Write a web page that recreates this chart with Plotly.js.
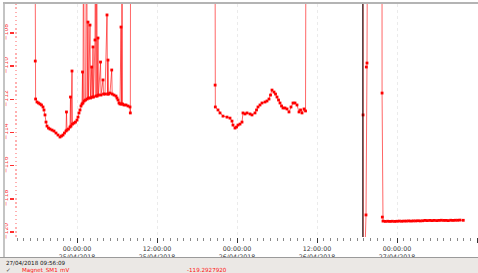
<!DOCTYPE html>
<html><head><meta charset="utf-8">
<script src="https://cdn.plot.ly/plotly-3.0.1.min.js"></script>
<style>
body{margin:0;background:#fff;}
#wrap{position:relative;width:478px;height:273px;overflow:hidden;background:#fff;font-family:"DejaVu Sans",sans-serif;}
#chart{position:absolute;left:0;top:0;width:478px;height:273px;}
#lborder{position:absolute;left:3px;top:2px;width:2px;height:255px;background:#c4c4c4;}
#tborder{position:absolute;left:3px;top:2px;width:475px;height:2px;background:#b4b4b4;}
#band{position:absolute;left:0;top:257px;width:478px;height:16px;background:#ebe8e5;border-top:1px solid #9a9a9a;box-sizing:border-box;}
.t{position:absolute;font-size:5.6px;line-height:6px;white-space:nowrap;}
</style></head>
<body>
<div id="wrap">
  <div id="chart"></div>
  <div id="lborder"></div>
  <div id="tborder"></div>
  <div id="band">
    <div class="t" style="left:6px;top:2px;color:#111;">27/04/2018 09:56:09</div>
    <div class="t" style="left:6px;top:9px;color:#111;">✓</div>
    <div class="t" style="left:22px;top:9px;color:#ff1010;">Magnet_SM1</div>
    <div class="t" style="left:60px;top:9px;color:#ff1010;">mV</div>
    <div class="t" style="left:187px;top:9px;color:#ff1010;">-119.2927920</div>
  </div>
</div>
<script>
// Time base: hours after 25/04/2018 00:00:00
const baseDate = Date.UTC(2018, 3, 25, 0, 0, 0);

// Segment 1 (morning of 25/04, spiky)
const hours1 = [-6.30,-6.26,-6.21,-6.00,-5.78,-5.55,-5.33,-5.10,-4.95,-4.80,
 -4.65,-4.50,-4.28,-4.05,-3.75,-3.45,-3.15,-2.85,-2.55,-2.33,
 -2.10,-1.88,-1.65,-1.58,-1.50,-1.28,-1.05,-0.98,-0.90,-0.75,
 -0.68,-0.45,-0.23,0.00,0.15,0.30,0.45,0.60,0.75,0.83,
 0.90,0.98,1.08,1.28,1.46,1.53,1.65,1.73,1.95,2.03,
 2.21,2.28,2.40,2.48,2.70,2.78,2.85,2.96,3.03,3.15,
 3.23,3.53,3.60,3.90,3.98,4.20,4.50,4.58,4.65,4.73,
 4.95,5.21,5.28,5.55,5.85,6.00,6.15,6.30,6.45,6.60,
 6.68,6.75,6.83,7.05,7.35,7.65,7.95,8.00,8.04];
const values1 = [-100,-109.69,-111.98,-112.16,-112.22,-112.28,-112.34,-112.46,-112.64,-112.94,
 -113.37,-113.61,-113.73,-113.79,-113.85,-113.91,-114.03,-114.15,-114.27,-114.21,
 -114.15,-114.03,-113.91,-112.76,-113.85,-113.79,-113.67,-111.86,-113.61,-110.29,
 -113.49,-113.43,-113.37,-113.25,-113.07,-112.82,-112.64,-112.40,-112.28,-110.35,
 -112.22,-100,-112.10,-112.04,-100,-111.98,-107.34,-111.92,-107.52,-111.92,
 -110.05,-111.86,-108.84,-111.86,-108.42,-100,-111.80,-100,-111.80,-108.30,
 -111.74,-109.75,-111.74,-110.83,-111.68,-111.68,-106.91,-111.68,-109.63,-111.68,
 -111.62,-110.23,-111.68,-111.74,-111.80,-111.92,-112.04,-112.22,-112.28,-107.64,
 -112.28,-100,-112.28,-112.34,-112.34,-112.40,-112.46,-112.82,-100];

// Segment 2 (night 25/04 -> 26/04)
const hours2 = [20.70,20.72,20.75,21.15,21.45,21.90,22.50,22.95,23.25,23.40,
 23.70,23.93,24.15,24.45,24.75,24.90,25.20,25.50,25.95,26.25,
 26.70,26.93,27.15,27.45,27.75,28.20,28.50,28.80,29.03,29.25,
 29.55,29.78,30.00,30.23,30.45,30.68,30.90,31.20,31.50,31.80,
 32.10,32.40,32.70,33.00,33.30,33.53,33.75,34.05,34.28,34.35];
const values2 = [-100,-111.14,-112.46,-112.64,-112.82,-113.01,-113.07,-113.13,-113.31,-113.55,
 -113.73,-113.67,-113.55,-113.49,-113.37,-112.82,-112.88,-112.82,-112.88,-112.94,
 -112.82,-112.64,-112.46,-112.34,-112.22,-112.16,-112.10,-111.98,-111.74,-111.44,
 -111.56,-111.68,-111.86,-112.04,-112.22,-112.40,-112.52,-112.52,-112.58,-112.76,
 -112.46,-112.22,-112.22,-112.34,-112.76,-112.64,-112.82,-112.58,-112.70,-100];

// Segment 3 (evening 26/04, jumps)
const hours3 = [42.90,42.91,42.95,43.35,43.40,43.50,43.58,45.75,45.76,45.80];
const values3 = [-100,-112.94,-125,-118.97,-110.05,-109.81,-100,-100,-111.62,-119.10];

// Flat tail (27/04)
const flatHours = [45.90,46.25,46.60,46.95,47.30,47.65,48.00,48.35,48.70,49.05,
 49.40,49.75,50.10,50.45,50.80,51.15,51.50,51.85,52.20,52.55,
 52.90,53.25,53.60,53.95,54.30,54.65,55.00,55.35,55.70,56.05,
 56.40,56.75,57.10,57.45,57.94];
const flatValues = [-119.34,-119.36,-119.35,-119.36,-119.35,-119.36,-119.35,-119.34,-119.35,-119.34,
 -119.34,-119.33,-119.34,-119.33,-119.33,-119.32,-119.33,-119.32,-119.30,-119.31,
 -119.30,-119.31,-119.30,-119.31,-119.30,-119.29,-119.30,-119.30,-119.31,-119.29,
 -119.30,-119.29,-119.29,-119.28,-119.2928];

// Axis ticks
const tickHours = [0, 12, 24, 36, 48, 60];
const tickLabels = ["00:00:00<br>25/04/2018","12:00:00<br>25/04/2018","00:00:00<br>26/04/2018",
                    "12:00:00<br>26/04/2018","00:00:00<br>27/04/2018","12:00:00<br>27/04/2018"];
const viewHours = [-9.3, 60.15];
const cursorHours = 42.88;

function toDate(h){
  return new Date(baseDate + h*3600000).toISOString().replace('T',' ').replace('Z','');
}

const allHours = hours1.concat(hours2, hours3, flatHours);
const allValues = values1.concat(values2, values3, flatValues);

const trace = {
  x: allHours.map(toDate),
  y: allValues,
  type: 'scatter',
  mode: 'lines+markers',
  line: {color: 'rgba(255,0,0,0.6)', width: 1},
  marker: {color: '#ff0000', size: 2.8, symbol: 'square'},
  hoverinfo: 'skip'
};

const layout = {
  width: 478, height: 273,
  margin: {l: 15, r: 0, t: 4, b: 36},
  paper_bgcolor: 'rgba(0,0,0,0)',
  plot_bgcolor: '#ffffff',
  showlegend: false,
  font: {family: 'DejaVu Sans, sans-serif'},
  xaxis: {
    type: 'date',
    range: viewHours.map(toDate),
    tickmode: 'array',
    tickvals: tickHours.map(toDate),
    ticktext: tickLabels,
    ticks: 'outside', ticklen: 5, tickwidth: 1, tickcolor: '#333',
    tickfont: {size: 6.3, color: '#333'},
    showgrid: true, gridcolor: '#ebebeb', griddash: 'dot', gridwidth: 1,
    zeroline: false, showline: false, automargin: false,
    minor: {dtick: 3600000, tick0: toDate(0), ticks: 'outside', ticklen: 2.5, tickcolor: '#888', showgrid: false}
  },
  yaxis: {
    range: [-120.3, -106.25],
    tick0: -120, dtick: 2,
    ticks: 'outside', ticklen: 4, tickwidth: 1.5, tickcolor: '#ff3030',
    tickangle: -90,
    tickfont: {size: 6, color: '#ff4040'},
    showgrid: false, zeroline: false, showline: false, automargin: false,
    minor: {dtick: 0.25, ticks: 'inside', ticklen: 2, tickcolor: '#ffb0b0', showgrid: false}
  },
  shapes: [{
    type: 'line', xref: 'x', yref: 'paper',
    x0: toDate(cursorHours), x1: toDate(cursorHours), y0: 0, y1: 1,
    line: {color: '#000000', width: 1}, layer: 'above'
  }]
};

Plotly.newPlot('chart', [trace], layout, {staticPlot: true, displayModeBar: false});
</script>
</body></html>
